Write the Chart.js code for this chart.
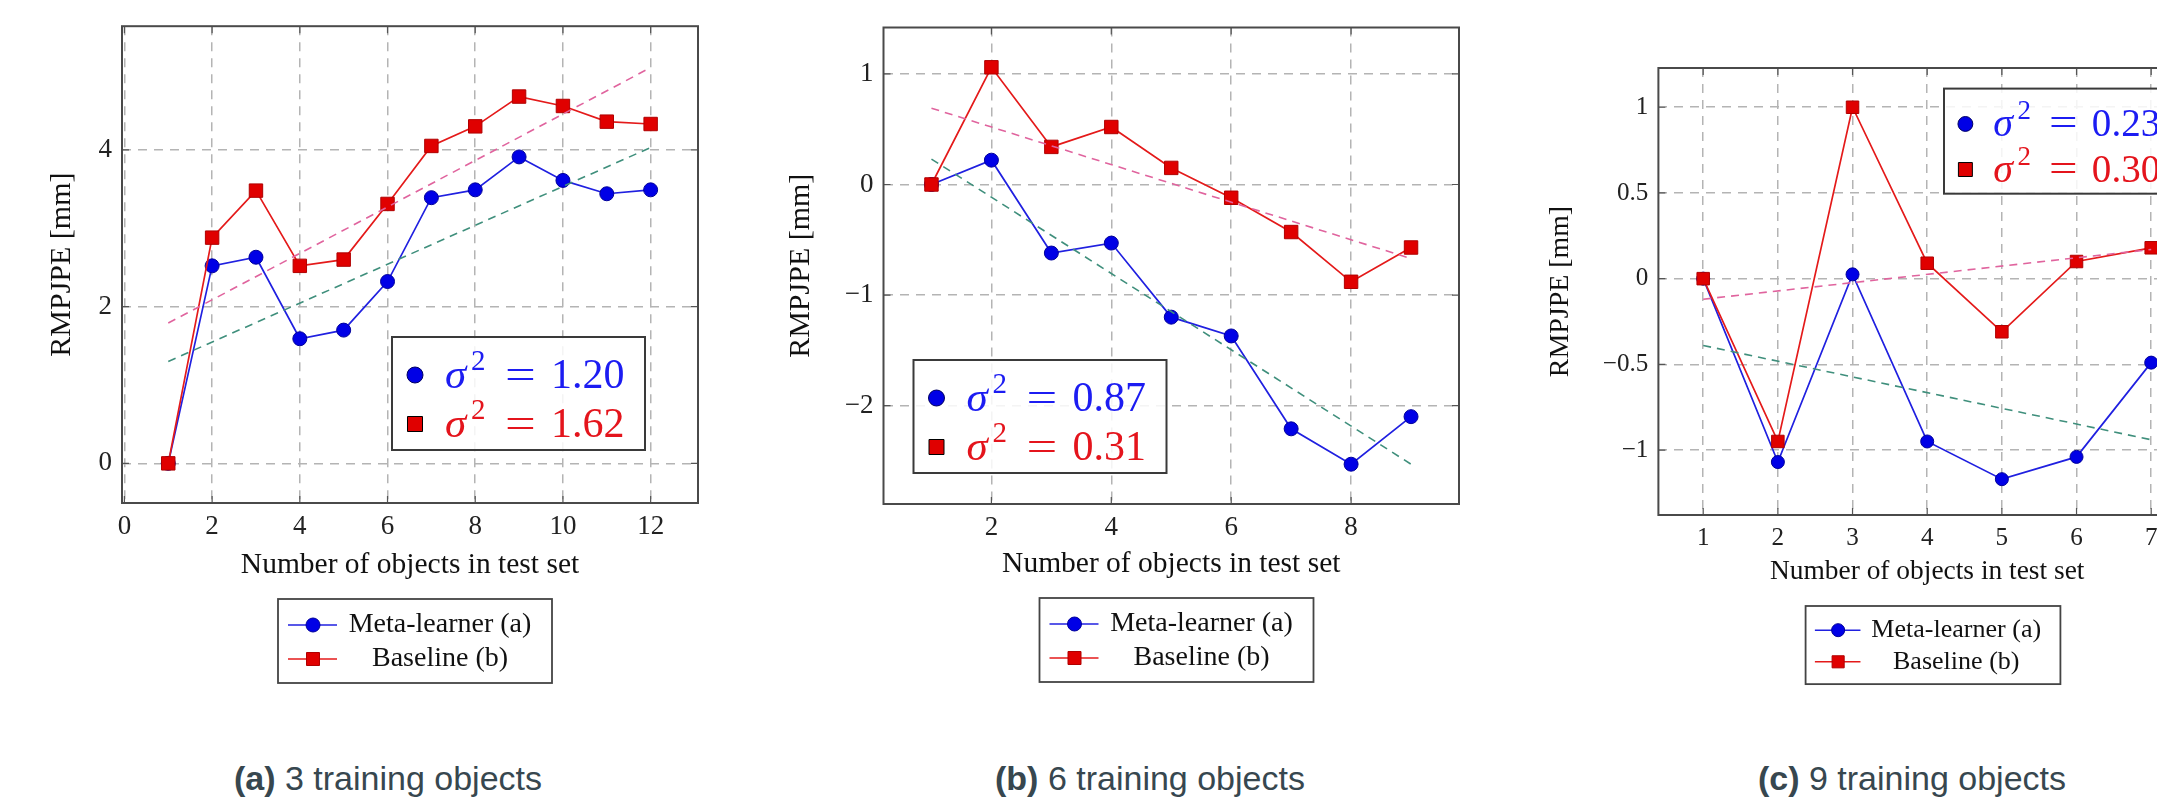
<!DOCTYPE html>
<html>
<head>
<meta charset="utf-8">
<script src="https://cdn.jsdelivr.net/npm/chart.js@4.4.1/dist/chart.umd.min.js"></script>
<style>
  html, body { margin: 0; padding: 0; background: #fff; width: 2157px; height: 797px; overflow: hidden; }
  .panel { position: absolute; top: 0; }
  .caption { position: absolute; top: 758px; width: 500px; text-align: center;
    font-family: "Liberation Sans", Arial, sans-serif; font-size: 34px; line-height: 40px; color: #37474f; }
</style>
</head>
<body>
<div class="panel" style="left:0px"><canvas id="chartA" width="760" height="720"></canvas></div>
<div class="panel" style="left:760px"><canvas id="chartB" width="760" height="720"></canvas></div>
<div class="panel" style="left:1500px"><canvas id="chartC" width="760" height="720"></canvas></div>
<div class="caption" style="left:138px"><b>(a)</b> 3 training objects</div>
<div class="caption" style="left:900px"><b>(b)</b> 6 training objects</div>
<div class="caption" style="left:1662px"><b>(c)</b> 9 training objects</div>
<script>
// (a) 3 training objects
const xA = [1, 2, 3, 4, 5, 6, 7, 8, 9, 10, 11, 12];
const metaA = [0, 2.52, 2.63, 1.59, 1.70, 2.32, 3.39, 3.49, 3.91, 3.61, 3.44, 3.49];
const baseA = [0, 2.88, 3.48, 2.52, 2.60, 3.31, 4.05, 4.30, 4.68, 4.56, 4.36, 4.33];
const trendXA = [1, 12];
const trendMetaA = [1.30, 4.03];
const trendBaseA = [1.79, 5.05];
const sigmaA = [1.20, 1.62];
const xTicksA = [0, 2, 4, 6, 8, 10, 12];
const yTicksA = [0, 2, 4];

// (b) 6 training objects
const xB = [1, 2, 3, 4, 5, 6, 7, 8, 9];
const metaB = [0, 0.22, -0.62, -0.53, -1.20, -1.37, -2.21, -2.53, -2.10];
const baseB = [0, 1.06, 0.34, 0.52, 0.15, -0.12, -0.43, -0.88, -0.57];
const trendXB = [1, 9];
const trendMetaB = [0.23, -2.53];
const trendBaseB = [0.69, -0.67];
const sigmaB = [0.87, 0.31];
const xTicksB = [2, 4, 6, 8];
const yTicksB = [-2, -1, 0, 1];

// (c) 9 training objects
const xC = [1, 2, 3, 4, 5, 6, 7];
const metaC = [0, -1.07, 0.025, -0.95, -1.17, -1.04, -0.49];
const baseC = [0, -0.95, 1.0, 0.09, -0.31, 0.10, 0.18];
const trendXC = [1, 7];
const trendMetaC = [-0.39, -0.94];
const trendBaseC = [-0.12, 0.17];
const sigmaC = [0.23, 0.30];
const xTicksC = [1, 2, 3, 4, 5, 6, 7];
const yTicksC = [-1, -0.5, 0, 0.5, 1];

const serif = '"Liberation Serif", "DejaVu Serif", serif';
const BLUE = '#0000e6';
const RED = '#e00000';

function pts(xs, ys) {
  return xs.map((x, i) => ({ x: x, y: ys[i] }));
}

function fmt(v) {
  return v < 0 ? '\u2212' + Math.abs(v) : String(v);
}

function drawMarker(ctx, kind, x, y, r, border) {
  ctx.beginPath();
  if (kind === 'circle') {
    ctx.arc(x, y, r, 0, Math.PI * 2);
    ctx.fillStyle = BLUE;
  } else {
    ctx.rect(x - r, y - r, 2 * r, 2 * r);
    ctx.fillStyle = RED;
  }
  ctx.fill();
  ctx.lineWidth = 1;
  ctx.strokeStyle = border;
  ctx.stroke();
}

function sigmaText(ctx, x, y, k, color, val) {
  ctx.fillStyle = color;
  ctx.textAlign = 'left';
  ctx.textBaseline = 'alphabetic';
  ctx.font = 'italic ' + (43 * k) + 'px ' + serif;
  ctx.fillText('\u03c3', x, y);
  ctx.font = (29 * k) + 'px ' + serif;
  ctx.fillText('2', x + 26 * k, y - 18 * k);
  // wider equals sign, like the math font
  ctx.save();
  ctx.translate(x + 60 * k, y);
  ctx.scale(1.3, 1);
  ctx.font = (42 * k) + 'px ' + serif;
  ctx.fillText('=', 0, 0);
  ctx.restore();
  ctx.font = (42 * k) + 'px ' + serif;
  ctx.fillText(val.toFixed(2), x + 106 * k, y);
}

const framePlugin = {
  id: 'frame',
  afterDraw(chart, args, o) {
    const { ctx, chartArea: a, scales } = chart;
    const k = o.k;
    ctx.save();

    // small inward ticks
    ctx.strokeStyle = '#555';
    ctx.lineWidth = 1.2;
    ctx.beginPath();
    scales.x.ticks.forEach(t => {
      const px = scales.x.getPixelForValue(t.value);
      ctx.moveTo(px, a.bottom); ctx.lineTo(px, a.bottom - 7);
      ctx.moveTo(px, a.top); ctx.lineTo(px, a.top + 7);
    });
    scales.y.ticks.forEach(t => {
      const py = scales.y.getPixelForValue(t.value);
      ctx.moveTo(a.left, py); ctx.lineTo(a.left + 7, py);
      ctx.moveTo(a.right, py); ctx.lineTo(a.right - 7, py);
    });
    ctx.stroke();

    // axis frame
    ctx.strokeStyle = '#4a4a4a';
    ctx.lineWidth = 2;
    ctx.strokeRect(a.left, a.top, a.right - a.left, a.bottom - a.top);

    // sigma box inside the plot
    const s = o.sigmaBox;
    ctx.fillStyle = 'rgba(255,255,255,0.85)';
    ctx.fillRect(s.x, s.y, 253 * k, 113 * k);
    ctx.strokeStyle = '#3a3a3a';
    ctx.lineWidth = 2;
    ctx.strokeRect(s.x, s.y, 253 * k, 113 * k);
    drawMarker(ctx, 'circle', s.x + 23 * k, s.y + 38 * k, 8 * k, '#000060');
    drawMarker(ctx, 'rect', s.x + 23 * k, s.y + 87 * k, 7.5 * k, '#000');
    sigmaText(ctx, s.x + 53 * k, s.y + 51 * k, k, '#1c1cf2', o.sigmas[0]);
    sigmaText(ctx, s.x + 53 * k, s.y + 100 * k, k, '#e4141c', o.sigmas[1]);

    // outer legend under the axis
    const l = o.legendBox;
    const w = 274 * k, h = 84 * k;
    ctx.fillStyle = '#fff';
    ctx.fillRect(l.cx - w / 2, l.top, w, h);
    ctx.strokeStyle = '#444';
    ctx.lineWidth = 1.8;
    ctx.strokeRect(l.cx - w / 2, l.top, w, h);
    const rows = [
      { y: l.top + 26 * k, color: '#2020e0', kind: 'circle', border: '#00009a', text: 'Meta-learner (a)' },
      { y: l.top + 60 * k, color: '#e41a1a', kind: 'rect', border: '#b00000', text: 'Baseline (b)' }
    ];
    rows.forEach(r => {
      ctx.strokeStyle = r.color;
      ctx.lineWidth = 1.6;
      ctx.beginPath();
      ctx.moveTo(l.cx - 127 * k, r.y);
      ctx.lineTo(l.cx - 78 * k, r.y);
      ctx.stroke();
      drawMarker(ctx, r.kind, l.cx - 102 * k, r.y, (r.kind === 'circle' ? 7 : 6.5) * k, r.border);
      ctx.fillStyle = '#111';
      ctx.font = (28 * k) + 'px ' + serif;
      ctx.textAlign = 'center';
      ctx.textBaseline = 'middle';
      ctx.fillText(r.text, l.cx + 25 * k, r.y);
    });
    ctx.restore();
  }
};

function makeChart(id, p) {
  const k = p.k;
  const tickFont = { family: serif, size: 27 * k };
  const xTitleSize = 29.5 * k;
  const yTitleSize = 30 * k;
  new Chart(document.getElementById(id), {
    type: 'line',
    data: {
      datasets: [
        { label: 'trend b', data: pts(p.trendX, p.trendBase), borderColor: '#e0649e', borderWidth: 1.6,
          borderDash: [8, 6], pointRadius: 0 },
        { label: 'trend a', data: pts(p.trendX, p.trendMeta), borderColor: '#3f8f7c', borderWidth: 1.6,
          borderDash: [8, 6], pointRadius: 0 },
        { label: 'Baseline (b)', data: pts(p.x, p.base), borderColor: '#e41a1a', borderWidth: 1.7,
          pointStyle: 'rect', pointRadius: 9.5 * k, pointBackgroundColor: RED, pointBorderColor: '#b00000',
          pointBorderWidth: 1 },
        { label: 'Meta-learner (a)', data: pts(p.x, p.meta), borderColor: '#2020e0', borderWidth: 1.7,
          pointStyle: 'circle', pointRadius: 7 * k, pointBackgroundColor: BLUE, pointBorderColor: '#00009a',
          pointBorderWidth: 1 }
      ]
    },
    options: {
      responsive: false,
      animation: false,
      devicePixelRatio: 1,
      layout: { padding: { left: 0, top: p.area.top, right: p.W - p.area.right, bottom: 0 } },
      plugins: {
        legend: { display: false },
        tooltip: { enabled: false },
        frame: { k: k, sigmaBox: p.sigmaBox, sigmas: p.sigmas, legendBox: p.legendBox }
      },
      scales: {
        x: {
          type: 'linear', min: p.xMin, max: p.xMax,
          afterBuildTicks: s => { s.ticks = p.xTicks.map(v => ({ value: v })); },
          afterFit: s => { s.height = p.H - p.area.bottom; },
          grid: { color: '#b4b4b4', lineWidth: 1.5, drawTicks: false },
          border: { display: false, dash: [9, 7] },
          ticks: { font: tickFont, color: '#222', padding: 8, maxRotation: 0, autoSkip: false, callback: fmt },
          title: { display: true, text: 'Number of objects in test set', color: '#111',
            font: { family: serif, size: xTitleSize },
            padding: { top: 0, bottom: p.H - p.xTitleY - xTitleSize * 0.6 } }
        },
        y: {
          type: 'linear', min: p.yMin, max: p.yMax,
          afterBuildTicks: s => { s.ticks = p.yTicks.map(v => ({ value: v })); },
          afterFit: s => { s.width = p.area.left; },
          grid: { color: '#b4b4b4', lineWidth: 1.5, drawTicks: false },
          border: { display: false, dash: [9, 7] },
          ticks: { font: tickFont, color: '#222', padding: 10, autoSkip: false, callback: fmt },
          title: { display: true, text: 'RMPJPE [mm]', color: '#111',
            font: { family: serif, size: yTitleSize },
            padding: { top: p.yTitleX - yTitleSize * 0.6, bottom: 0 } }
        }
      }
    },
    plugins: [framePlugin]
  });
}

makeChart('chartA', {
  k: 1, W: 760, H: 720,
  area: { left: 122, top: 26, right: 698, bottom: 503 },
  x: xA, meta: metaA, base: baseA, trendX: trendXA, trendMeta: trendMetaA, trendBase: trendBaseA,
  xTicks: xTicksA, yTicks: yTicksA, xMin: -0.055, xMax: 13.08, yMin: -0.506, yMax: 5.578,
  yTitleX: 62, xTitleY: 565,
  sigmaBox: { x: 392, y: 337 }, sigmas: sigmaA,
  legendBox: { cx: 415, top: 599 }
});

makeChart('chartB', {
  k: 1, W: 760, H: 720,
  area: { left: 123.5, top: 27.5, right: 699, bottom: 504 },
  x: xB, meta: metaB, base: baseB, trendX: trendXB, trendMeta: trendMetaB, trendBase: trendBaseB,
  xTicks: xTicksB, yTicks: yTicksB, xMin: 0.2, xMax: 9.8, yMin: -2.89, yMax: 1.42,
  yTitleX: 41, xTitleY: 564,
  sigmaBox: { x: 153.5, y: 360 }, sigmas: sigmaB,
  legendBox: { cx: 416.5, top: 598 }
});

makeChart('chartC', {
  k: 0.93, W: 760, H: 720,
  area: { left: 158.4, top: 68, right: 696, bottom: 515 },
  x: xC, meta: metaC, base: baseC, trendX: trendXC, trendMeta: trendMetaC, trendBase: trendBaseC,
  xTicks: xTicksC, yTicks: yTicksC, xMin: 0.4, xMax: 7.6, yMin: -1.379, yMax: 1.229,
  yTitleX: 61, xTitleY: 572,
  sigmaBox: { x: 444, y: 88.6 }, sigmas: sigmaC,
  legendBox: { cx: 433, top: 606 }
});
</script>
</body>
</html>
